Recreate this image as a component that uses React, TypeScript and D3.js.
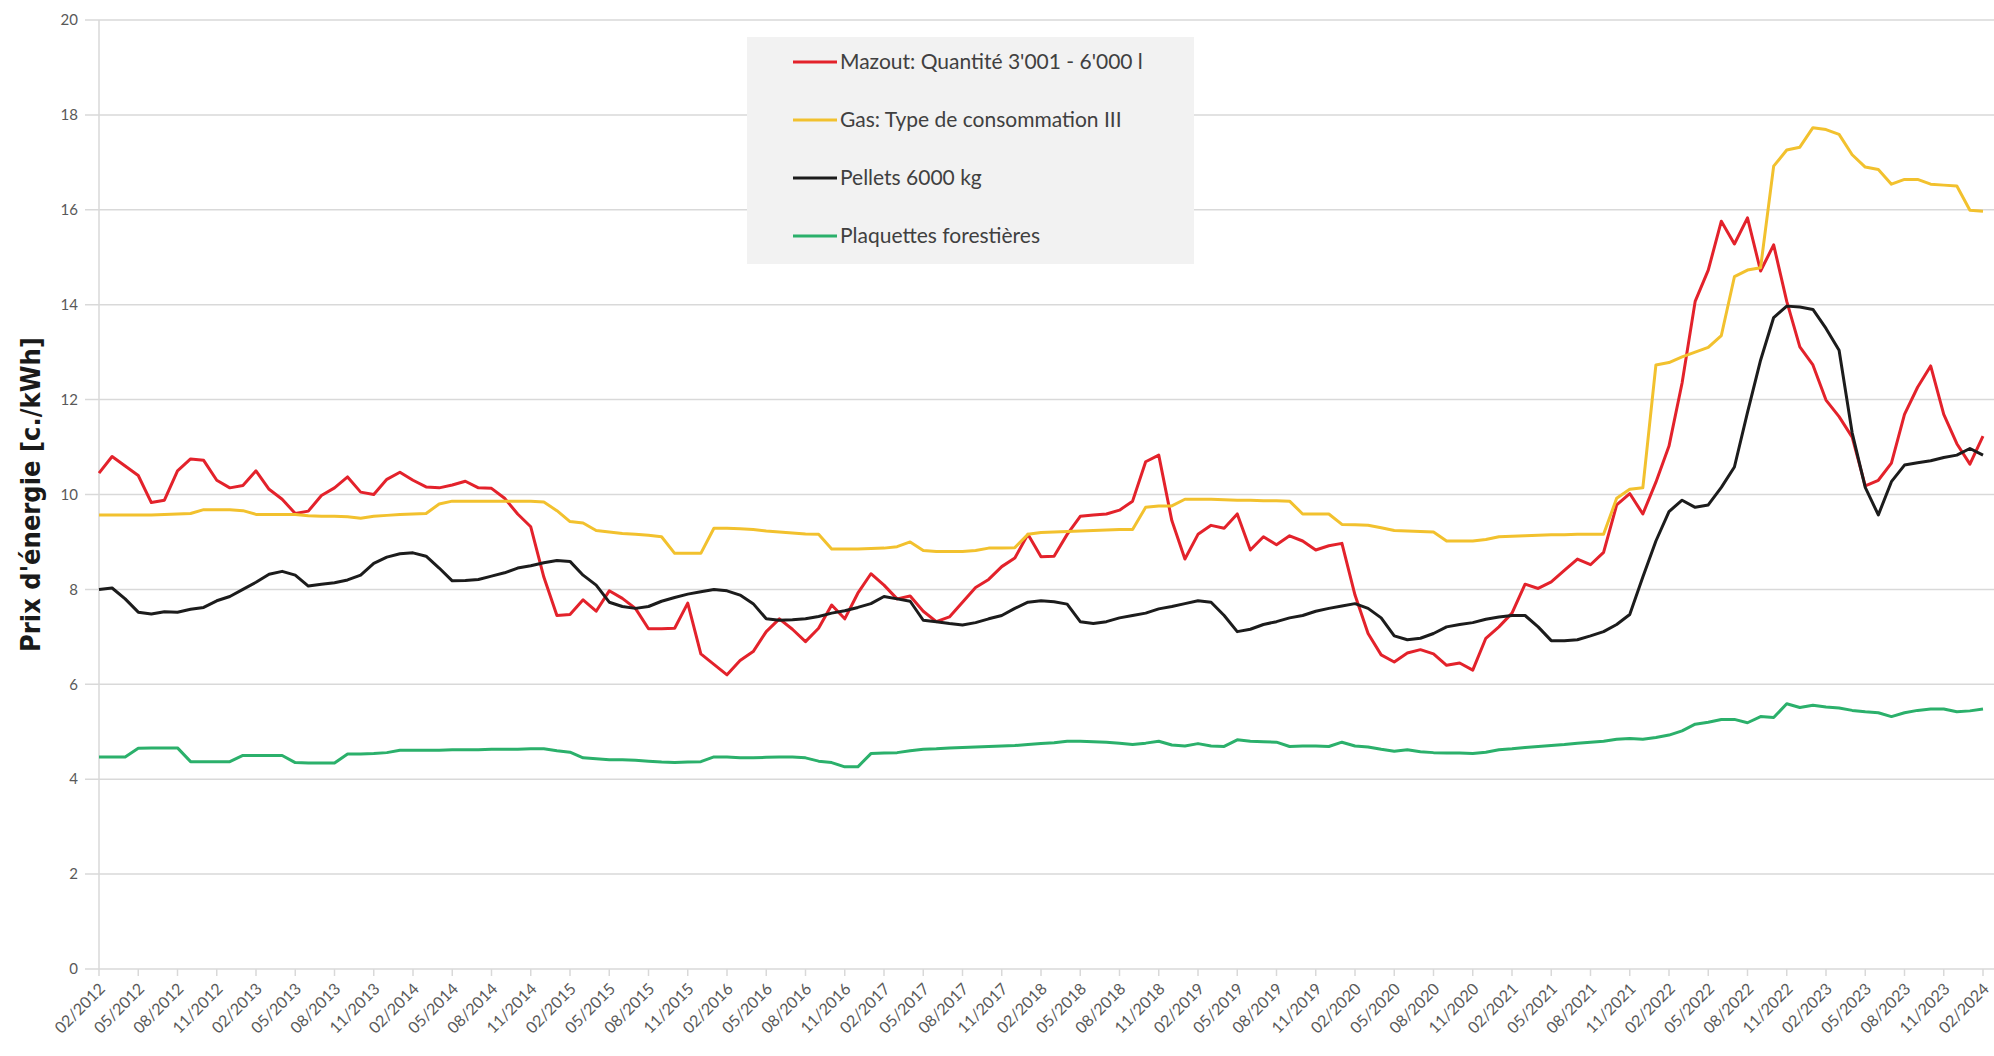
import React from 'react'
import * as d3 from 'd3'

const width = 1994
const height = 1056

// x tick labels, one every 3 months (02/2012 .. 02/2024)
const tickLabels = [
  '02/2012', '05/2012', '08/2012', '11/2012',
  '02/2013', '05/2013', '08/2013', '11/2013',
  '02/2014', '05/2014', '08/2014', '11/2014',
  '02/2015', '05/2015', '08/2015', '11/2015',
  '02/2016', '05/2016', '08/2016', '11/2016',
  '02/2017', '05/2017', '08/2017', '11/2017',
  '02/2018', '05/2018', '08/2018', '11/2018',
  '02/2019', '05/2019', '08/2019', '11/2019',
  '02/2020', '05/2020', '08/2020', '11/2020',
  '02/2021', '05/2021', '08/2021', '11/2021',
  '02/2022', '05/2022', '08/2022', '11/2022',
  '02/2023', '05/2023', '08/2023', '11/2023',
  '02/2024',
]

const yTicks = [0, 2, 4, 6, 8, 10, 12, 14, 16, 18, 20]

// monthly values, 02/2012 .. 02/2024 (145 months)
const mazout = [
  10.45, 10.8, 10.6, 10.4, 9.83, 9.88, 10.5, 10.75, 10.72, 10.3, 10.14, 10.19,
  10.5, 10.11, 9.9, 9.6, 9.65, 9.98, 10.14, 10.37, 10.05, 10.0, 10.32, 10.47,
  10.3, 10.16, 10.14, 10.2, 10.28, 10.14, 10.13, 9.92, 9.59, 9.32, 8.26, 7.45,
  7.47, 7.78, 7.54, 7.97, 7.81, 7.6, 7.17, 7.17, 7.18, 7.71, 6.64, 6.42,
  6.2, 6.5, 6.69, 7.11, 7.38, 7.16, 6.9, 7.18, 7.67, 7.38, 7.92, 8.33,
  8.09, 7.8, 7.86, 7.54, 7.32, 7.42, 7.73, 8.04, 8.21, 8.48, 8.66, 9.16,
  8.69, 8.7, 9.16, 9.54, 9.57, 9.59, 9.67, 9.86, 10.69, 10.83, 9.45, 8.64,
  9.16, 9.35, 9.29, 9.59, 8.83, 9.11, 8.94, 9.13, 9.02, 8.83, 8.92, 8.97,
  7.88, 7.07, 6.62, 6.47, 6.66, 6.73, 6.64, 6.4, 6.45, 6.3, 6.97, 7.21,
  7.5, 8.11, 8.02, 8.16, 8.4, 8.64, 8.52, 8.78, 9.78, 10.02, 9.59, 10.26,
  11.02, 12.35, 14.07, 14.73, 15.76, 15.28, 15.83, 14.71, 15.26, 14.07, 13.11, 12.73,
  11.99, 11.64, 11.21, 10.18, 10.3, 10.66, 11.69, 12.26, 12.71, 11.69, 11.07, 10.64,
  11.23,
]

const gas = [
  9.57, 9.57, 9.57, 9.57, 9.57, 9.58, 9.59, 9.6, 9.68, 9.68, 9.68, 9.66,
  9.58, 9.58, 9.58, 9.58, 9.55, 9.54, 9.54, 9.53, 9.5, 9.54, 9.56, 9.58,
  9.59, 9.6, 9.8, 9.86, 9.86, 9.86, 9.86, 9.86, 9.86, 9.86, 9.84, 9.66,
  9.43, 9.4, 9.24, 9.21, 9.18, 9.16, 9.14, 9.11, 8.76, 8.76, 8.76, 9.29,
  9.29, 9.28, 9.26, 9.23, 9.21, 9.19, 9.17, 9.16, 8.85, 8.85, 8.85, 8.86,
  8.87, 8.9, 9.0, 8.82, 8.8, 8.8, 8.8, 8.82, 8.87, 8.87, 8.88, 9.16,
  9.2, 9.21, 9.22, 9.23, 9.24, 9.25, 9.26, 9.26, 9.73, 9.76, 9.76, 9.9,
  9.9, 9.9, 9.89, 9.88, 9.88, 9.87, 9.87, 9.86, 9.59, 9.59, 9.59, 9.37,
  9.36, 9.35, 9.3, 9.24, 9.23, 9.22, 9.21, 9.02, 9.02, 9.02, 9.05, 9.11,
  9.12, 9.13, 9.14, 9.15, 9.15, 9.16, 9.16, 9.16, 9.92, 10.11, 10.14, 12.73,
  12.78, 12.9, 13.0, 13.1, 13.35, 14.59, 14.73, 14.78, 16.92, 17.26, 17.32, 17.73,
  17.69, 17.59, 17.16, 16.9, 16.85, 16.54, 16.64, 16.64, 16.54, 16.52, 16.5, 15.99,
  15.97,
]

const pellets = [
  8.0, 8.03, 7.8, 7.52, 7.48, 7.53, 7.52, 7.58, 7.62, 7.76, 7.85, 8.0,
  8.15, 8.32, 8.38, 8.3, 8.07, 8.11, 8.14, 8.2, 8.3, 8.55, 8.68, 8.75,
  8.77, 8.7, 8.45, 8.18, 8.19, 8.21, 8.28, 8.35, 8.45, 8.5, 8.56, 8.61,
  8.59, 8.3, 8.09, 7.73, 7.64, 7.6, 7.64, 7.75, 7.83, 7.9, 7.95, 8.0,
  7.97, 7.88, 7.7, 7.38, 7.35, 7.36, 7.38, 7.43, 7.5, 7.55, 7.62, 7.7,
  7.85, 7.8, 7.75, 7.35, 7.32, 7.28, 7.25, 7.3, 7.38, 7.45, 7.6, 7.73,
  7.76, 7.74, 7.69, 7.32, 7.28, 7.32, 7.4, 7.45, 7.5, 7.59, 7.64, 7.7,
  7.76, 7.73, 7.45, 7.11, 7.16, 7.26, 7.32, 7.4, 7.45, 7.54, 7.6, 7.65,
  7.7, 7.6, 7.4, 7.02, 6.94, 6.97, 7.07, 7.21, 7.26, 7.3, 7.37, 7.42,
  7.45, 7.45, 7.21, 6.92, 6.92, 6.94, 7.02, 7.11, 7.26, 7.47, 8.26, 9.02,
  9.64, 9.88, 9.73, 9.78, 10.15, 10.58, 11.73, 12.83, 13.73, 13.97, 13.95, 13.9,
  13.5, 13.04, 11.3, 10.15, 9.57, 10.27, 10.62, 10.67, 10.71, 10.78, 10.83, 10.97,
  10.83,
]

const plaquettes = [
  4.47, 4.47, 4.47, 4.65, 4.66, 4.66, 4.66, 4.37, 4.37, 4.37, 4.37, 4.5,
  4.5, 4.5, 4.5, 4.35, 4.34, 4.34, 4.34, 4.53, 4.53, 4.54, 4.56, 4.61,
  4.61, 4.61, 4.61, 4.62, 4.62, 4.62, 4.63, 4.63, 4.63, 4.64, 4.64, 4.6,
  4.57, 4.45, 4.43, 4.41, 4.41, 4.4, 4.38, 4.36, 4.35, 4.36, 4.37, 4.47,
  4.47, 4.45, 4.45, 4.46, 4.47, 4.47, 4.45, 4.38, 4.35, 4.26, 4.26, 4.54,
  4.55, 4.56, 4.6, 4.63, 4.64, 4.66, 4.67, 4.68, 4.69, 4.7, 4.71, 4.73,
  4.75, 4.77, 4.8, 4.8, 4.79, 4.78, 4.76, 4.73, 4.76, 4.8, 4.72, 4.7,
  4.75, 4.7, 4.69, 4.83, 4.8, 4.79, 4.78, 4.69, 4.7, 4.7, 4.69, 4.78,
  4.7, 4.68, 4.63, 4.59, 4.62, 4.58, 4.56, 4.55, 4.55, 4.54, 4.57, 4.62,
  4.64, 4.67, 4.69, 4.71, 4.73, 4.76, 4.78, 4.8, 4.84, 4.86, 4.84, 4.88,
  4.93, 5.02, 5.16, 5.2, 5.26, 5.26, 5.19, 5.32, 5.3, 5.59, 5.51, 5.56,
  5.52, 5.5, 5.45, 5.42, 5.4, 5.32, 5.4, 5.45, 5.48, 5.48, 5.42, 5.44,
  5.48,
]

const seriesNames = [
  "Mazout: Quantité 3'001 - 6'000 l",
  'Gas: Type de consommation III',
  'Pellets 6000 kg',
  'Plaquettes forestières',
]
const seriesColors = ['#e3222b', '#f2c12e', '#1c1c1c', '#2bb06b']
const seriesValues = [mazout, gas, pellets, plaquettes]

const plotLeft = 99
const plotRight = 1983
const plotTop = 20
const plotBottom = 969

const font = 'Lato, "Open Sans", sans-serif'

export default function App() {
  const x = d3
    .scaleLinear()
    .domain([0, mazout.length - 1])
    .range([plotLeft, plotRight])
  const y = d3.scaleLinear().domain([0, 20]).range([plotBottom, plotTop])

  const line = d3
    .line<number>()
    .x((d, i) => x(i))
    .y(d => y(d))

  return (
    <div style={{ position: 'absolute', left: 0, top: 0 }}>
      <svg width={width} height={height} style={{ display: 'block', background: '#fff' }}>
        {/* horizontal grid + y labels */}
        {yTicks.map(t => (
          <g key={t}>
            <line
              x1={plotLeft - 14}
              x2={width}
              y1={y(t)}
              y2={y(t)}
              stroke="#d9d9d9"
              strokeWidth={1.5}
            />
            <text
              x={plotLeft - 21}
              y={y(t)}
              dy="0.35em"
              textAnchor="end"
              fontFamily={font}
              fontSize={15}
              fill="#595959"
            >
              {t}
            </text>
          </g>
        ))}
        <line x1={plotLeft} x2={plotLeft} y1={plotTop} y2={plotBottom} stroke="#d9d9d9" strokeWidth={1.5} />

        {/* x ticks and rotated labels */}
        {tickLabels.map((lab, k) => {
          const tx = x(k * 3)
          return (
            <g key={lab}>
              <line x1={tx} x2={tx} y1={plotBottom} y2={plotBottom + 7} stroke="#d9d9d9" strokeWidth={1.5} />
              <text
                transform={`translate(${tx + 3},${plotBottom + 17}) rotate(-45)`}
                textAnchor="end"
                dy="0.35em"
                fontFamily={font}
                fontSize={16}
                fill="#595959"
              >
                {lab}
              </text>
            </g>
          )
        })}

        {/* y axis title */}
        <text
          transform={`translate(31,${(plotTop + plotBottom) / 2}) rotate(-90)`}
          textAnchor="middle"
          dy="0.35em"
          fontFamily='"Liberation Sans Narrow", "DejaVu Sans Condensed", sans-serif'
          fontWeight="bold"
          fontSize={27}
          fill="#1a1a1a"
        >
          Prix d'énergie [c./kWh]
        </text>

        {/* lines */}
        {seriesValues.map((vals, s) => (
          <path
            key={s}
            d={line(vals) || ''}
            fill="none"
            stroke={seriesColors[s]}
            strokeWidth={3}
            strokeLinejoin="round"
          />
        ))}

        {/* legend */}
        <g>
          <rect x={747} y={37} width={447} height={227} fill="#f2f2f2" />
          {seriesNames.map((name, s) => {
            const ly = 62 + s * 58
            return (
              <g key={name}>
                <line x1={793} x2={837} y1={ly} y2={ly} stroke={seriesColors[s]} strokeWidth={3} />
                <text
                  x={840}
                  y={ly}
                  dy="0.35em"
                  fontFamily={font}
                  fontSize={21}
                  fill="#404040"
                >
                  {name}
                </text>
              </g>
            )
          })}
        </g>
      </svg>
    </div>
  )
}
